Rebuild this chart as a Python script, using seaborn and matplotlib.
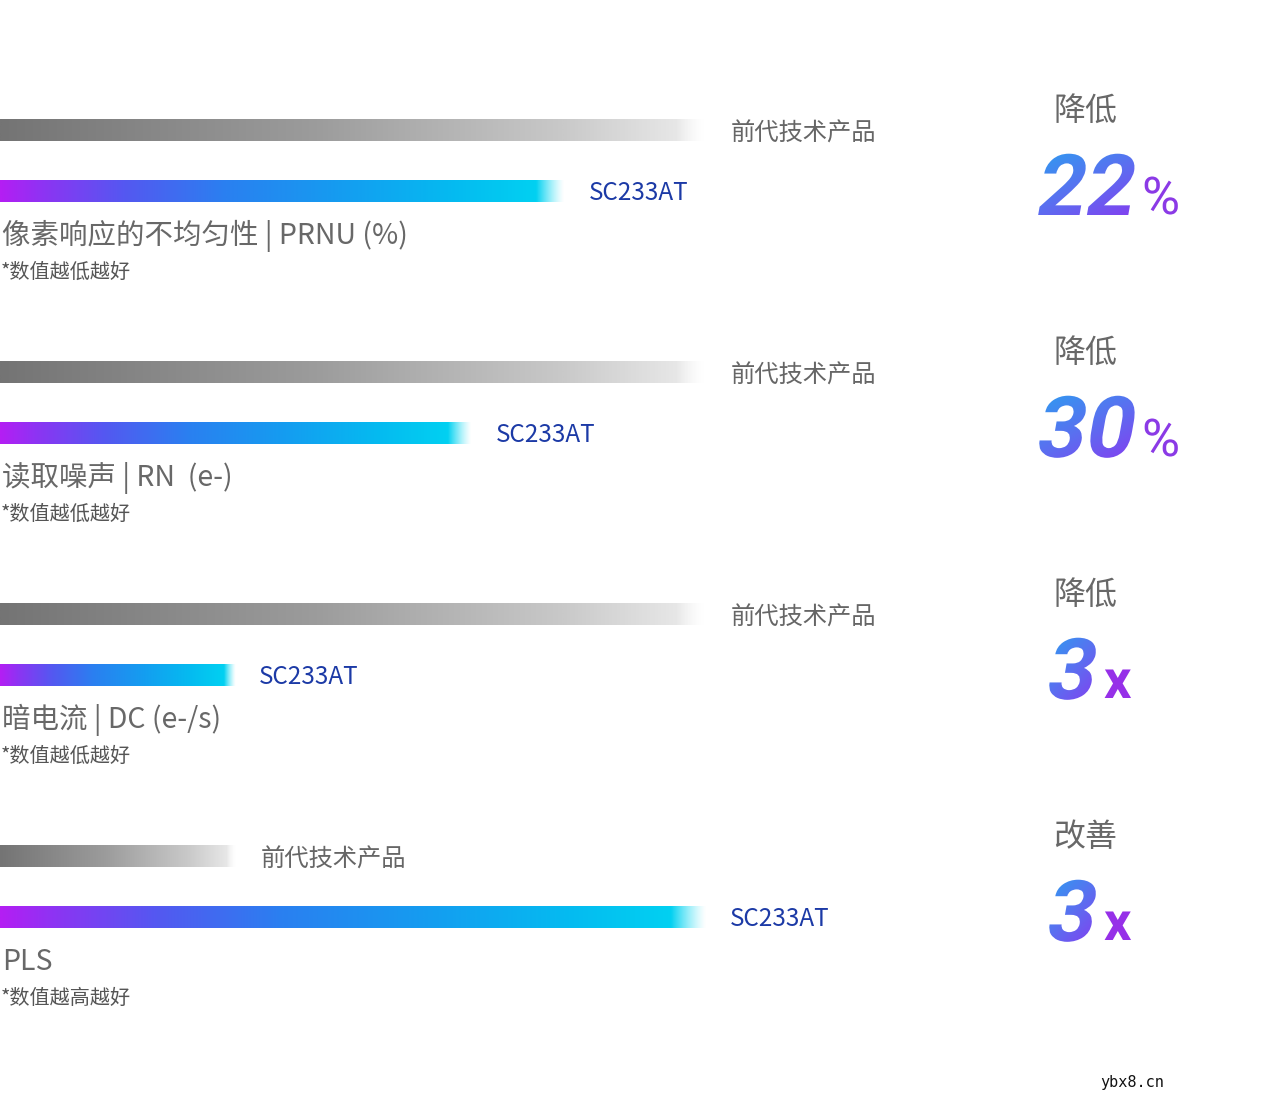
import numpy as np
import pandas as pd
import matplotlib
matplotlib.use('Agg')
import matplotlib.pyplot as plt
import seaborn as sns
from matplotlib.textpath import TextPath
from matplotlib.patches import PathPatch
from matplotlib.font_manager import FontProperties
from matplotlib.colors import LinearSegmentedColormap
import matplotlib.transforms as mtransforms

# ---------------- data ----------------
metrics = ['像素响应的不均匀性 | PRNU (%)', '读取噪声 | RN  (e-)', '暗电流 | DC (e-/s)', 'PLS']
notes = ['*数值越低越好', '*数值越低越好', '*数值越低越好', '*数值越高越好']
products = ['前代技术产品', 'SC233AT']
prev_vals = [100.7, 100.7, 100.7, 33.6]
new_vals = [80.7, 67.4, 33.6, 100.9]
verbs = ['降低', '降低', '降低', '改善']
big_nums = ['22', '30', '3', '3']
units = ['%', '%', 'x', 'x']

# ---------------- style ----------------
sns.set_theme(style='white')
plt.rcParams['font.family'] = ['Noto Sans CJK SC', 'DejaVu Sans']

W, H = 1280, 1114
PX = 7.0            # pixels per value unit
GROUP_PX = 242.0    # pixels per category
TOP_PX = 161.0      # pixel y of first category centre
DY = 3 / GROUP_PX   # small downward nudge for text centring

fig = plt.figure(figsize=(W / 100, H / 100), dpi=100)
fig.patch.set_facecolor('white')
ax = fig.add_axes([0, 0, 1, 1])

df = pd.DataFrame({
    'metric': metrics * 2,
    'product': [products[0]] * len(metrics) + [products[1]] * len(metrics),
    'value': prev_vals + new_vals,
})
sns.barplot(data=df, y='metric', x='value', hue='product', order=metrics,
            hue_order=products, orient='h', width=0.5, gap=0.65, dodge=True,
            legend=False, errorbar=None, ax=ax,
            palette=['#888888', '#1e90f0'], saturation=1)

xlim = (0, W / PX)
ylim = ((H - TOP_PX) / GROUP_PX, -TOP_PX / GROUP_PX)


def grad_rgba(stops, fade_start, n=512):
    cmap = LinearSegmentedColormap.from_list('c', stops)
    t = np.linspace(0, 1, n)
    rgba = cmap(t)
    a = np.ones(n)
    m = t > fade_start
    a[m] = 1 - (t[m] - fade_start) / (1 - fade_start)
    rgba[:, 3] = a ** 1.3
    return rgba[None, :, :]


gray_img = grad_rgba([(0, '#747474'), (0.45, '#9c9c9c'), (0.8, '#c9c9c9'),
                      (1, '#eeeeee')], 0.96)
color_img = grad_rgba([(0, '#b41ef3'), (0.08, '#8b35f3'), (0.22, '#5458f1'),
                       (0.4, '#2a80f0'), (0.6, '#159cf0'), (0.8, '#05baf0'),
                       (1, '#00d8f2')], 0.95)

label_off = [26 / PX, 24 / PX]
label_col = ['#666666', '#1c3aa6']
label_size = [17.5, 17.5]
for k, cont in enumerate(ax.containers):
    img = gray_img if k == 0 else color_img
    for bar in cont:
        x0, y0 = bar.get_x(), bar.get_y()
        w, h = bar.get_width(), bar.get_height()
        bar.set_facecolor('none')
        bar.set_edgecolor('none')
        ax.imshow(img, extent=(x0, x0 + w, y0 + h, y0), aspect='auto',
                  interpolation='bilinear', zorder=2)
        ax.text(x0 + w + label_off[k], y0 + h / 2 + (DY if k == 0 else DY / 2),
                products[k], fontsize=label_size[k], color=label_col[k],
                va='center', ha='left')

# metric titles & notes
for i, (m, n) in enumerate(zip(metrics, notes)):
    ax.text(2 / PX, i + 0.125 + 45 / GROUP_PX, m, fontsize=20.5, color='#686868',
            va='center', ha='left')
    ax.text(0.5 / PX, i + 0.125 + 81 / GROUP_PX, n, fontsize=14.5,
            color='#555555', va='center', ha='left')
    ax.text(1085 / PX, i - 0.22 + DY, verbs[i], fontsize=23, color='#686868',
            va='center', ha='center')

ax.set_xlim(*xlim)
ax.set_ylim(*ylim)
ax.axis('off')

# ---------------- gradient big numbers (pixel overlay) ----------------
ov = fig.add_axes([0, 0, 1, 1])
ov.set_xlim(0, W)
ov.set_ylim(0, H)
ov.axis('off')
ov.patch.set_alpha(0)

num_cmap = LinearSegmentedColormap.from_list('n', ['#2f9bf0', '#5a70f0', '#8240f0'])
fp_bold = FontProperties(family=['Roboto', 'DejaVu Sans'], weight='bold')
fp_reg = FontProperties(family=['Roboto', 'DejaVu Sans'], weight='normal')


def grad_text(s, x, baseline, size, prop, skew, cmap=None, color=None):
    tp = TextPath((0, 0), s, size=size, prop=prop)
    tr = mtransforms.Affine2D().skew_deg(skew, 0).translate(x, H - baseline)
    path = tr.transform_path(tp)
    if color is not None:
        ov.add_patch(PathPatch(path, fc=color, ec='none'))
        return
    patch = PathPatch(path, fc='none', ec='none')
    ov.add_patch(patch)
    bb = path.get_extents()
    u = np.linspace(0, 1, 200)
    U, V = np.meshgrid(u, u)
    T = np.clip(0.45 * U + 0.55 * V, 0, 1)
    im = ov.imshow(cmap(T), extent=(bb.x0, bb.x1, bb.y0, bb.y1),
                   origin='upper', aspect='auto', interpolation='bilinear')
    im.set_clip_path(patch)


for i in range(len(metrics)):
    gc = TOP_PX + GROUP_PX * i
    base = gc + 54
    num = big_nums[i]
    x_num = 1034 if len(num) == 2 else 1044
    grad_text(num, x_num, base, 85, fp_bold, 10, cmap=num_cmap)
    if units[i] == '%':
        grad_text('%', 1142, base - 1, 52, fp_reg, 0, color='#8b3ae6')
    else:
        grad_text('x', 1104, base - 1, 54, fp_bold, 0, color='#9630e8')

ov.set_xlim(0, W)
ov.set_ylim(0, H)

fig.text(1100 / W, 1 - 1083 / H, 'ybx8.cn', fontsize=11,
         family='DejaVu Sans Mono', color='#111111', va='center', ha='left')

fig.savefig('out.png', dpi=100, facecolor='white')
